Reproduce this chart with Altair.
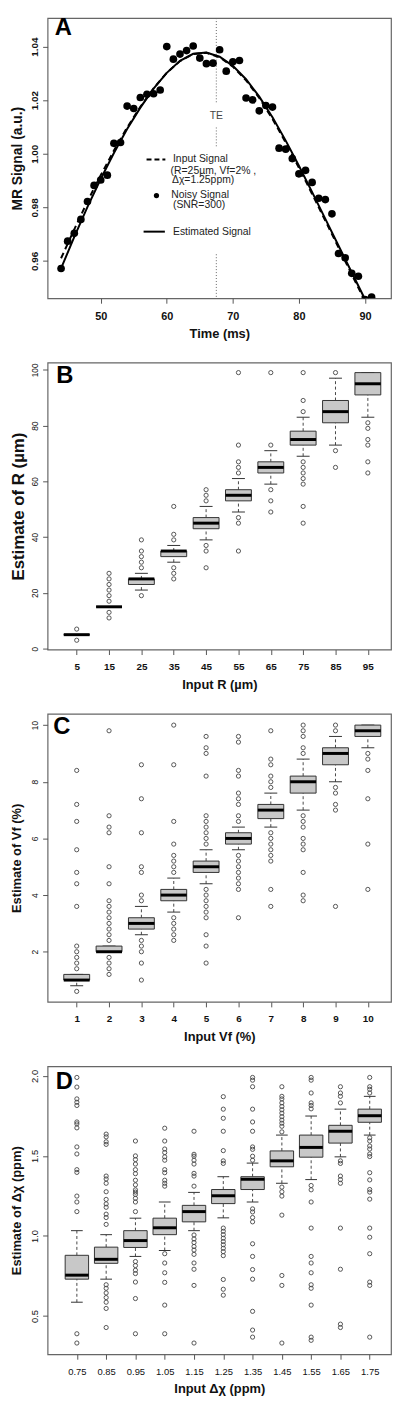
import altair as alt
import pandas as pd

FONT = "Liberation Sans"

# ---------------- Panel A data ----------------
a_time = list(range(44, 92))
a_noisy = [0.9572, 0.9674, 0.9703, 0.9755, 0.9822, 0.9882, 0.9902, 0.9920, 1.0039, 1.0042,
           1.0178, 1.0169, 1.0210, 1.0222, 1.0224, 1.0238, 1.0400, 1.0353, 1.0372, 1.0385,
           1.0402, 1.0357, 1.0336, 1.0338, 1.0388, 1.0308, 1.0343, 1.0348, 1.0208, 1.0201,
           1.0160, 1.0180, 1.0174, 1.0021, 1.0017, 0.9982, 0.9925, 0.9938, 0.9893, 0.9834,
           0.9829, 0.9776, 0.9628, 0.9612, 0.9554, 0.9543, 0.9456, 0.9465]
a_curve_t = [44, 46, 48, 50, 52, 54, 56, 58, 60, 62, 64, 66, 68, 70, 72, 74, 76, 78, 80, 82,
             84, 86, 88, 90, 91]
a_input = [0.9610, 0.9718, 0.9822, 0.9920, 1.0012, 1.0098, 1.0175, 1.0244, 1.0302, 1.0346,
           1.0372, 1.0377, 1.0360, 1.0325, 1.0274, 1.0208, 1.0130, 1.0042, 0.9948, 0.9850,
           0.9750, 0.9650, 0.9550, 0.9450, 0.9400]
a_estimated = [0.9572, 0.9690, 0.9802, 0.9906, 1.0003, 1.0092, 1.0172, 1.0243, 1.0302, 1.0347,
               1.0373, 1.0378, 1.0362, 1.0328, 1.0278, 1.0213, 1.0136, 1.0049, 0.9955, 0.9857,
               0.9757, 0.9657, 0.9557, 0.9457, 0.9407]
a_te = 67.5
a_te_seg_top = [1.0506, 1.0098, 0.9625]
a_te_seg_bot = [1.0185, 1.0028, 0.9461]
a_xticks = [50, 60, 70, 80, 90]
a_yticks = [0.96, 0.98, 1.00, 1.02, 1.04]

# ---------------- Panel B data ----------------
b_labels = ["5", "15", "25", "35", "45", "55", "65", "75", "85", "95"]
b_lo = [5, 15, 21, 31, 39, 49, 59, 69, 73, 83]
b_q1 = [5, 15, 23, 33, 43, 53, 63, 73, 81, 91]
b_med = [5, 15, 25, 35, 45, 55, 65, 75, 85, 95]
b_q3 = [5, 15, 25, 35, 47, 57, 67, 78, 89, 99]
b_hi = [5, 15, 27, 37, 51, 61, 71, 83, 97, 99]
b_out = [
    [7, 3],
    [27, 25, 23, 21, 19, 17, 13, 11],
    [39, 35, 33, 31, 29, 19],
    [51, 41, 39, 29, 27, 25],
    [57, 55, 53, 37, 35, 29],
    [99, 73, 67, 65, 63, 47, 45, 35],
    [99, 73, 57, 53, 49],
    [99, 89, 85, 67, 65, 63, 61, 59, 51, 45],
    [99, 71, 65],
    [81, 79, 75, 73, 67, 63],
]
b_yticks = [0, 20, 40, 60, 80, 100]

# ---------------- Panel C data ----------------
c_labels = ["1", "2", "3", "4", "5", "6", "7", "8", "9", "10"]
c_lo = [0.8, 2.0, 2.6, 3.4, 4.4, 5.6, 6.4, 7.0, 8.0, 9.2]
c_q1 = [1.0, 2.0, 2.8, 3.8, 4.8, 5.8, 6.7, 7.6, 8.6, 9.6]
c_med = [1.0, 2.0, 3.0, 4.0, 5.0, 6.0, 7.0, 8.0, 9.0, 9.8]
c_q3 = [1.2, 2.2, 3.2, 4.2, 5.2, 6.2, 7.2, 8.2, 9.2, 10.0]
c_hi = [1.2, 2.2, 3.6, 4.6, 5.6, 6.4, 7.6, 8.8, 9.6, 10.0]
c_out = [
    [8.4, 7.2, 6.6, 5.6, 4.8, 4.4, 3.6, 2.2, 2.0, 1.8, 1.6, 1.4, 0.6],
    [9.8, 6.8, 6.4, 6.2, 5.0, 4.4, 3.8, 3.6, 3.4, 3.2, 3.0, 2.8, 2.6, 2.4, 1.8, 1.6, 1.4, 1.2],
    [8.6, 7.4, 6.2, 5.0, 4.8, 4.0, 3.8, 2.4, 2.2, 2.0, 1.6, 1.0],
    [10.0, 8.6, 6.6, 5.8, 5.4, 5.2, 5.0, 4.8, 3.2, 3.0, 2.8, 2.6, 2.4],
    [9.6, 9.2, 9.0, 8.2, 6.8, 6.6, 6.4, 6.2, 6.0, 5.8, 4.2, 4.0, 3.8, 3.6, 3.4, 3.2, 2.6, 2.2, 1.6],
    [9.6, 9.4, 8.4, 8.2, 7.6, 7.4, 7.2, 6.8, 6.6, 5.4, 5.2, 5.0, 4.8, 4.6, 4.4, 4.2, 3.2],
    [9.8, 8.8, 8.6, 8.2, 8.0, 7.8, 6.2, 6.0, 5.8, 5.6, 5.4, 5.2, 4.2, 3.6],
    [10.0, 9.8, 9.6, 9.2, 9.0, 6.8, 6.6, 6.4, 6.0, 5.8, 5.6, 4.8, 4.0, 3.8],
    [10.0, 9.8, 7.8, 7.6, 7.2, 7.0, 3.6],
    [9.0, 8.8, 8.4, 7.4, 5.8, 4.2],
]
c_yticks = [2, 4, 6, 8, 10]

# ---------------- Panel D data ----------------
d_labels = ["0.75", "0.85", "0.95", "1.05", "1.15", "1.25", "1.35", "1.45", "1.55", "1.65", "1.75"]
d_lo = [0.586, 0.730, 0.872, 0.909, 1.033, 1.113, 1.212, 1.329, 1.352, 1.494, 1.630]
d_q1 = [0.730, 0.829, 0.928, 1.008, 1.088, 1.202, 1.290, 1.432, 1.492, 1.580, 1.710]
d_med = [0.755, 0.854, 0.971, 1.051, 1.152, 1.251, 1.354, 1.469, 1.553, 1.654, 1.751]
d_q3 = [0.879, 0.930, 1.033, 1.111, 1.191, 1.290, 1.370, 1.531, 1.630, 1.691, 1.792]
d_hi = [1.033, 1.008, 1.111, 1.212, 1.272, 1.370, 1.455, 1.630, 1.749, 1.792, 1.872]
d_out = [
    [1.99, 1.93, 1.856, 1.835, 1.815, 1.712, 1.70, 1.675, 1.556, 1.512, 1.414, 1.397, 1.249,
     1.212, 1.152, 0.389, 0.331],
    [1.636, 1.619, 1.588, 1.572, 1.374, 1.356, 1.329, 1.276, 1.228, 1.200, 1.179, 1.136, 1.115,
     1.072, 0.695, 0.673, 0.644, 0.615, 0.586, 0.547, 0.428],
    [1.593, 1.500, 1.477, 1.449, 1.414, 1.389, 1.348, 1.319, 1.288, 1.274, 1.259, 1.235, 1.212,
     1.152, 0.840, 0.815, 0.786, 0.765, 0.712, 0.609, 0.389],
    [1.673, 1.593, 1.543, 1.521, 1.494, 1.473, 1.414, 1.395, 1.348, 1.329, 1.311, 0.889, 0.831,
     0.770, 0.710, 0.568, 0.389],
    [1.654, 1.510, 1.498, 1.473, 1.449, 1.391, 1.374, 1.311, 1.006, 0.981, 0.959, 0.934, 0.912,
     0.885, 0.831, 0.792, 0.691, 0.331],
    [1.870, 1.792, 1.735, 1.654, 1.533, 1.469, 1.453, 1.049, 1.029, 1.008, 0.986, 0.965, 0.945,
     0.923, 0.902, 0.877, 0.728, 0.667, 0.630],
    [1.99, 1.973, 1.932, 1.792, 1.712, 1.654, 1.556, 1.541, 1.498, 1.473, 1.169, 1.150, 1.115,
     1.088, 0.951, 0.872, 0.790, 0.730, 0.529, 0.412, 0.368],
    [1.932, 1.872, 1.856, 1.831, 1.809, 1.788, 1.767, 1.745, 1.724, 1.704, 1.685, 1.650, 1.305,
     1.276, 1.249, 1.130, 0.753, 0.691, 0.331],
    [1.99, 1.973, 1.893, 1.831, 1.815, 1.794, 1.315, 1.288, 1.212, 1.049, 0.872, 0.831, 0.770,
     0.695, 0.673, 0.568, 0.368, 0.348],
    [1.932, 1.893, 1.872, 1.831, 1.469, 1.453, 1.374, 1.352, 1.329, 1.049, 0.792, 0.449, 0.428],
    [1.99, 1.932, 1.916, 1.893, 1.613, 1.593, 1.562, 1.543, 1.512, 1.496, 1.395, 1.350, 1.290,
     1.274, 1.230, 1.049, 0.992, 0.889, 0.712, 0.691, 0.368],
]
d_yticks = [0.5, 1.0, 1.5, 2.0]

# ---------------- styling ----------------
W = 347
BOX_FILL = "#c8c8c8"
DARK = "#333333"


def x_axis(values, title, label_size, label_weight, title_size, label_expr=None):
    kw = dict(values=values, title=title, labelFontSize=label_size, labelFontWeight=label_weight,
              titleFontSize=title_size, titleFontWeight="bold", tickSize=5, labelPadding=7,
              titlePadding=7, labelAngle=0)
    if label_expr:
        kw["labelExpr"] = label_expr
    return alt.Axis(**kw)


def y_axis(values, title, label_size, label_weight, title_size, title_pad, fmt=None):
    kw = dict(values=values, title=title, labelFontSize=label_size, labelFontWeight=label_weight,
              titleFontSize=title_size, titleFontWeight="bold", tickSize=5, labelPadding=3,
              titlePadding=title_pad, labelAngle=270, labelAlign="center",
              labelBaseline="bottom")
    if fmt:
        kw["format"] = fmt
    return alt.Axis(**kw)


def letter_layer(letter, px, py):
    return alt.Chart(pd.DataFrame({"t": [letter]})).mark_text(
        fontSize=24, fontWeight="bold", align="center", baseline="middle", color="#000"
    ).encode(text="t:N", x=alt.value(px), y=alt.value(py))


def box_panel(labels, lo, q1, med, q3, hi, outliers, xdom, ydom, height, xax, yax, letter, lpos):
    n = len(labels)
    pos = list(range(1, n + 1))
    stats = pd.DataFrame(dict(pos=pos, lo=lo, q1=q1, med=med, q3=q3, hi=hi))
    outl = pd.DataFrame([(i + 1, v) for i, vs in enumerate(outliers) for v in vs],
                        columns=["pos", "val"])
    xs = alt.Scale(domain=xdom, nice=False, zero=False)
    ys = alt.Scale(domain=ydom, nice=False, zero=False)

    def X(f):
        return alt.X(f, type="quantitative", scale=xs, axis=xax)

    def Y(f):
        return alt.Y(f, type="quantitative", scale=ys, axis=yax)

    base = alt.Chart(stats).transform_calculate(
        left="datum.pos - 0.4", right="datum.pos + 0.4",
        cl="datum.pos - 0.2", cr="datum.pos + 0.2")

    wl = base.mark_rule(color=DARK, strokeWidth=0.9, strokeDash=[3, 2.5]).encode(
        x=X("pos"), y=Y("lo"), y2="q1:Q")
    wh = base.mark_rule(color=DARK, strokeWidth=0.9, strokeDash=[3, 2.5]).encode(
        x=X("pos"), y=Y("q3"), y2="hi:Q")
    cap_lo = base.mark_rule(color=DARK, strokeWidth=1).encode(x=X("cl"), x2="cr:Q", y=Y("lo"))
    cap_hi = base.mark_rule(color=DARK, strokeWidth=1).encode(x=X("cl"), x2="cr:Q", y=Y("hi"))
    box = base.mark_rect(fill=BOX_FILL, stroke=DARK, strokeWidth=1).encode(
        x=X("left"), x2="right:Q", y=Y("q1"), y2="q3:Q")
    medl = base.mark_rule(color="#000", strokeWidth=3).encode(
        x=X("left"), x2="right:Q", y=Y("med"))
    pts = alt.Chart(outl).mark_point(shape="circle", filled=False, size=18, color="#444",
                                     strokeWidth=0.9, opacity=1).encode(x=X("pos"), y=Y("val"))
    return alt.layer(wl, wh, cap_lo, cap_hi, box, medl, pts,
                     letter_layer(letter, lpos[0], lpos[1])).properties(width=W, height=height)


# ---------------- Panel A ----------------
a_xs = alt.Scale(domain=[41.96, 93.94], nice=False, zero=False)
a_ys = alt.Scale(domain=[0.94609, 1.05059], nice=False, zero=False)
a_xax = x_axis(a_xticks, "Time (ms)", 11, "bold", 13)
a_yax = y_axis(a_yticks, "MR Signal (a.u.)", 10, "bold", 14, 5, fmt=".2f")


def AX(f):
    return alt.X(f, type="quantitative", scale=a_xs, axis=a_xax)


def AY(f):
    return alt.Y(f, type="quantitative", scale=a_ys, axis=a_yax)


te_df = pd.DataFrame({"t": [a_te] * len(a_te_seg_top), "v": a_te_seg_top, "v2": a_te_seg_bot})
te_rule = alt.Chart(te_df).mark_rule(color="#666", strokeWidth=1, strokeDash=[1, 2]).encode(
    x=AX("t"), y=AY("v"), y2="v2:Q")
te_text = alt.Chart(pd.DataFrame({"t": [a_te], "v": [1.0139], "s": ["TE"]})).mark_text(
    fontSize=10.5, color="#444", align="center", baseline="middle").encode(
    x=AX("t"), y=AY("v"), text="s:N")

curve_df = pd.DataFrame({"t": a_curve_t, "inp": a_input, "est": a_estimated})
inp_line = alt.Chart(curve_df).mark_line(color="#000", strokeWidth=2, strokeDash=[6, 4],
                                         clip=True).encode(x=AX("t"), y=AY("inp"))
est_line = alt.Chart(curve_df).mark_line(color="#000", strokeWidth=2, clip=True).encode(
    x=AX("t"), y=AY("est"))
noisy_df = pd.DataFrame({"t": a_time, "v": a_noisy})
noisy_pts = alt.Chart(noisy_df).mark_point(shape="circle", filled=True, size=60, color="#000",
                                           opacity=1, clip=True).encode(x=AX("t"), y=AY("v"))

one = pd.DataFrame({"k": [0]})
leg_dash = alt.Chart(one).mark_rule(color="#000", strokeWidth=2, strokeDash=[5, 3]).encode(
    x=alt.value(100), x2=alt.value(119), y=alt.value(142.7))
leg_pt = alt.Chart(one).mark_point(shape="circle", filled=True, size=28, color="#000",
                                   opacity=1).encode(x=alt.value(110), y=alt.value(179.3))
leg_solid = alt.Chart(one).mark_rule(color="#000", strokeWidth=2).encode(
    x=alt.value(97), x2=alt.value(118.5), y=alt.value(215.7))
leg_items = [("Input Signal", 126.7, 142.7), ("(R=25µm, Vf=2% ,", 124.3, 154.3),
             ("Δχ=1.25ppm)", 125.7, 163.7), ("Noisy Signal", 125, 178.7),
             ("(SNR=300)", 126.7, 189.3), ("Estimated Signal", 126.7, 215.7)]
leg_texts = [alt.Chart(pd.DataFrame({"s": [s]})).mark_text(
    fontSize=10.5, color="#222", align="left", baseline="middle").encode(
    text="s:N", x=alt.value(px), y=alt.value(py)) for s, px, py in leg_items]

panel_a = alt.layer(te_rule, te_text, inp_line, est_line, noisy_pts, leg_dash, leg_pt, leg_solid,
                    *leg_texts, letter_layer("A", 16, 10)).properties(width=W, height=283)

# ---------------- Panels B, C, D ----------------
def lab_expr(labels):
    return "[" + ",".join("'" + l + "'" for l in labels) + "][datum.value - 1]"


panel_b = box_panel(
    b_labels, b_lo, b_q1, b_med, b_q3, b_hi, b_out, [0.1, 10.716], [-0.35, 102.6], 290,
    x_axis(list(range(1, 11)), "Input R (µm)", 10, "bold", 13, lab_expr(b_labels)),
    y_axis(b_yticks, "Estimate of R (µm)", 8.5, "normal", 17, 3.5),
    "B", (17.5, 13.5))

panel_c = box_panel(
    c_labels, c_lo, c_q1, c_med, c_q3, c_hi, c_out, [0.1, 10.716], [0.229, 10.395], 291,
    x_axis(list(range(1, 11)), "Input Vf (%)", 10, "bold", 13, lab_expr(c_labels)),
    y_axis(c_yticks, "Estimate of Vf (%)", 8.5, "normal", 13, 7.5),
    "C", (14.5, 13.7))

panel_d = box_panel(
    d_labels, d_lo, d_q1, d_med, d_q3, d_hi, d_out, [0.0, 11.727], [0.261, 2.060], 291,
    x_axis(list(range(1, 12)), "Input Δχ (ppm)", 9.5, "normal", 13, lab_expr(d_labels)),
    y_axis(d_yticks, "Estimate of Δχ (ppm)", 9.5, "normal", 13, 6.5, fmt=".1f"),
    "D", (17, 16.3))

chart = alt.vconcat(panel_a, panel_b, panel_c, panel_d, spacing=65, bounds="flush").properties(
    padding=0
).configure_view(stroke="#666", strokeWidth=1.2).configure_axis(
    domain=False, grid=False, tickColor="#555", labelColor="#111", titleColor="#111",
    labelFont=FONT, titleFont=FONT, labelFlush=False, labelOverlap=False
).configure_text(font=FONT)

chart.save("out.html", embed_options={"renderer": "svg", "actions": False})
